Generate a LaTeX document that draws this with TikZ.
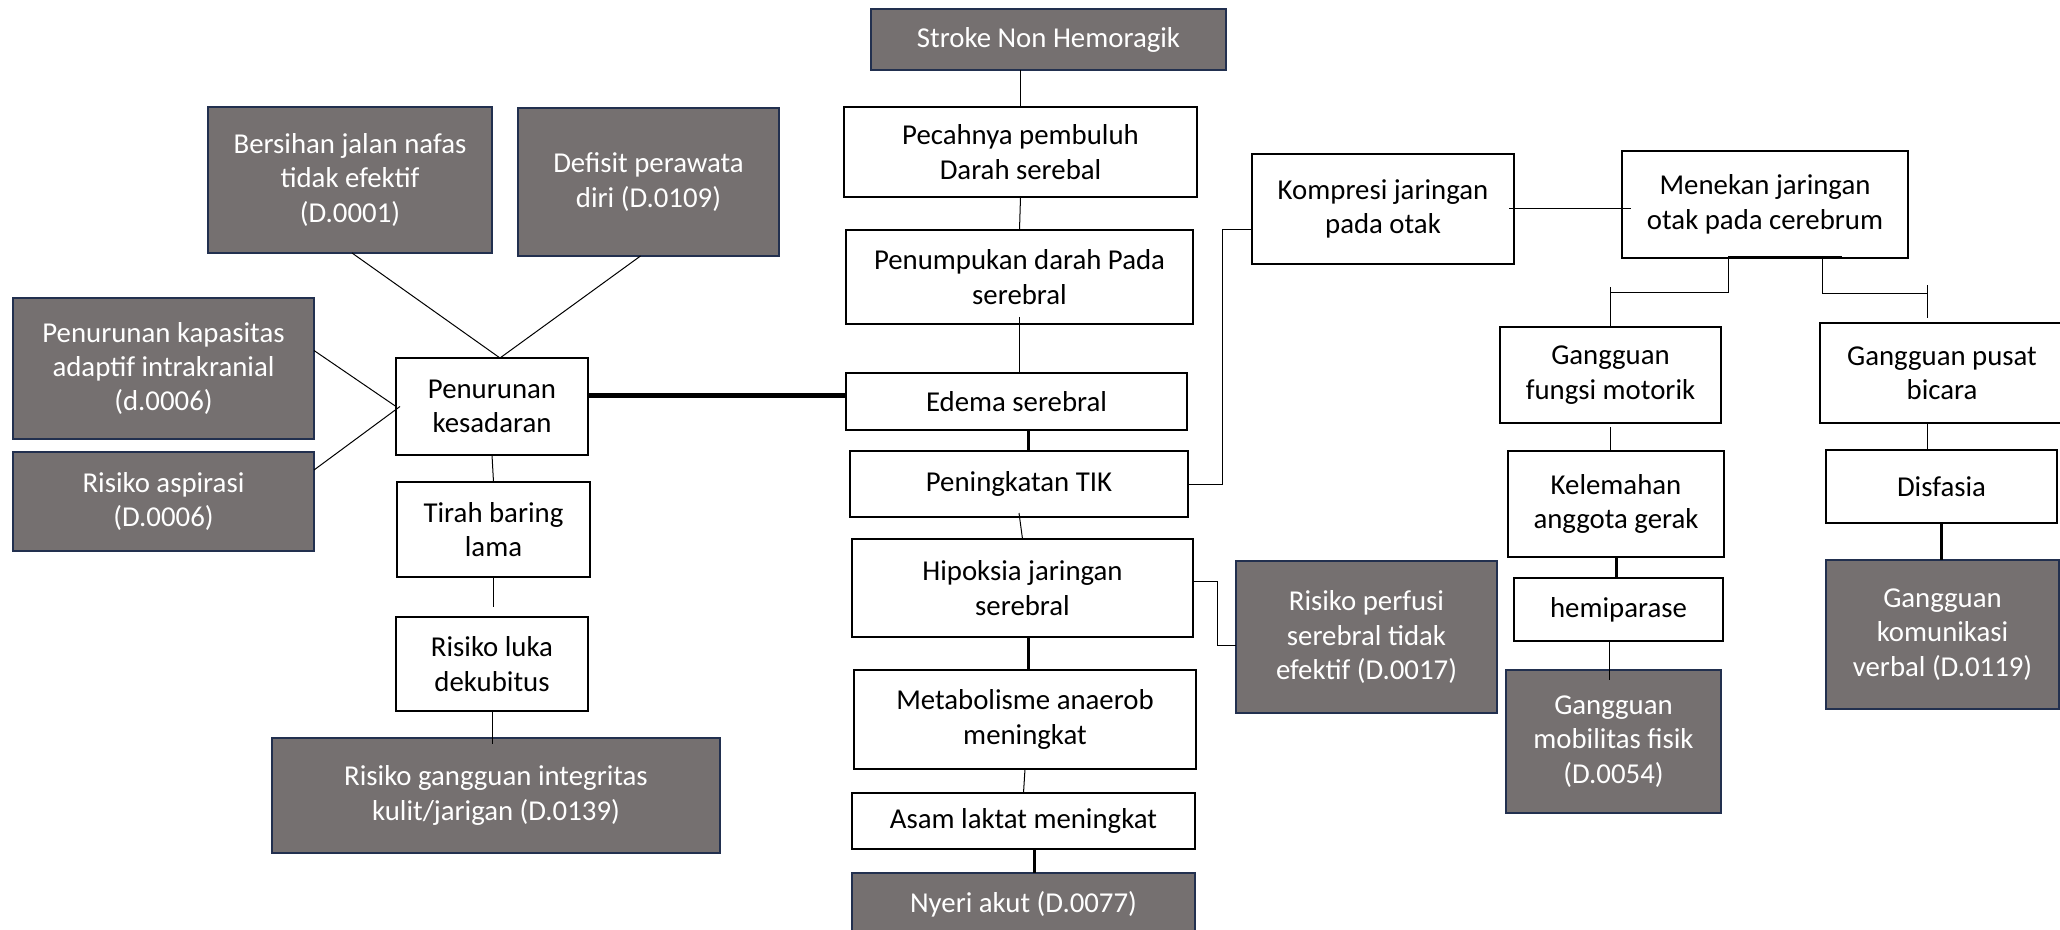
\documentclass[tikz,border=0pt]{standalone}
\usepackage{fontspec}
\setmainfont{Carlito}
\definecolor{dkfill}{RGB}{117,112,112}
\definecolor{dkborder}{RGB}{34,48,79}
\newcommand\bx[7]{%
  \pgfmathsetmacro\bxw{(#4-#2)*0.5}%
  \pgfmathsetmacro\bxh{(#5-#3)*0.5}%
  \node[#7, minimum width=\bxw pt, minimum height=\bxh pt] (#1) at ({(#2+#4)/2},{(#3+#5)/2}) {#6};}
\begin{document}
\begin{tikzpicture}[x=0.5pt,y=-0.5pt,
  basebox/.style={align=center, inner sep=1pt, outer sep=0pt, line width=1pt,
    font=\fontsize{14.4}{17.2}\selectfont},
  wbox/.style={basebox, draw=black, fill=white, text=black},
  dbox/.style={basebox, draw=dkborder, fill=dkfill, text=white},
  thin/.style={line width=0.5pt, black},
  bold/.style={line width=1.5pt, black},
  heavy/.style={line width=2.4pt, black}]
\fill[white] (0,0) rectangle (2060,930);
\useasboundingbox (0,0) rectangle (2060,930);

% centre column
\bx{stroke}{871}{9}{1226}{70}{Stroke Non Hemoragik}{dbox}
\bx{pec}{844}{107}{1197}{197}{Pecahnya pembuluh\\Darah serebal}{wbox}
\bx{pen}{846}{230}{1193}{324}{Penumpukan darah Pada\\serebral}{wbox}
\bx{ed}{846}{373}{1187}{430}{Edema serebral}{wbox}
\bx{tik}{850}{451}{1188}{517}{Peningkatan TIK}{wbox}
\bx{hip}{852}{539}{1193}{637}{Hipoksia jaringan\\serebral}{wbox}
\bx{met}{854}{670}{1196}{769}{Metabolisme anaerob\\meningkat}{wbox}
\bx{asam}{852}{793}{1195}{849}{Asam laktat meningkat}{wbox}
\bx{nyeri}{852}{873}{1195}{935}{Nyeri akut (D.0077)}{dbox}
\bx{perf}{1236}{561}{1497}{713}{Risiko perfusi\\serebral tidak\\efektif (D.0017)}{dbox}

% left part
\bx{bers}{208}{107}{492}{253}{Bersihan jalan nafas\\tidak efektif\\(D.0001)}{dbox}
\bx{def}{518}{108}{779}{256}{Defisit perawata\\diri (D.0109)}{dbox}
\bx{kap}{13}{298}{314}{439}{Penurunan kapasitas\\adaptif intrakranial\\(d.0006)}{dbox}
\bx{asp}{13}{452}{314}{551}{Risiko aspirasi\\(D.0006)}{dbox}
\bx{pk}{396}{358}{588}{455}{Penurunan\\kesadaran}{wbox}
\bx{tir}{397}{482}{590}{577}{Tirah baring\\lama}{wbox}
\bx{luka}{396}{617}{588}{711}{Risiko luka\\dekubitus}{wbox}
\bx{integ}{272}{738}{720}{853}{Risiko gangguan integritas\\kulit/jarigan (D.0139)}{dbox}

% right part
\bx{komp}{1252}{154}{1514}{264}{Kompresi jaringan\\pada otak}{wbox}
\bx{men}{1622}{151}{1908}{258}{Menekan jaringan\\otak pada cerebrum}{wbox}
\bx{fungsi}{1500}{327}{1721}{423}{Gangguan\\fungsi motorik}{wbox}
\bx{kel}{1508}{451}{1724}{557}{Kelemahan\\anggota gerak}{wbox}
\bx{hemi}{1514}{578}{1723}{641}{hemiparase}{wbox}
\bx{mob}{1506}{670}{1721}{813}{Gangguan\\mobilitas fisik\\(D.0054)}{dbox}
\bx{bic}{1820}{323}{2064}{423}{Gangguan pusat\\bicara}{wbox}
\bx{dis}{1826}{450}{2057}{523}{Disfasia}{wbox}
\bx{kom}{1826}{560}{2059}{709}{Gangguan\\komunikasi\\verbal (D.0119)}{dbox}

% connectors: centre column
\draw[thin] (stroke.south -| pec.north) -- (pec.north);
\draw[thin] (pec.south) -- (pen.north);
\draw[thin] ([yshift=3.5pt]pen.south) -- (pen.south |- ed.north);
\draw[bold] ([xshift=6pt]ed.south) -- ([xshift=6pt]ed.south |- tik.north);
\draw[thin] ([yshift=2pt]tik.south) -- (hip.north);
\draw[bold] ([xshift=3pt]hip.south) -- ([xshift=3pt]hip.south |- met.north);
\draw[thin] (met.south) -- (asam.north);
\draw[bold] ([xshift=5.5pt]asam.south) -- ([xshift=5.5pt]asam.south |- nyeri.north);
\draw[thin] (tik.east) -- ++(34,0) |- ([yshift=-10.5pt]komp.west);
\draw[thin] ([yshift=3.5pt]hip.east) -- ++(24,0) |- ([yshift=-4pt]perf.west);

% connectors: left
\draw[heavy] ([yshift=5.5pt]pk.east) -- ([yshift=5.5pt]pk.east -| ed.west);
\draw[thin] ([xshift=1pt]bers.south) -- ([xshift=4pt]pk.north);
\draw[thin] ([xshift=-4pt]def.south) -- ([xshift=4pt]pk.north);
\draw[thin] ([yshift=9pt]kap.east) -- (pk.west);
\draw[thin] ([yshift=-9pt]asp.north east) -- ([xshift=2pt]pk.west);
\draw[thin] (pk.south) -- (tir.north);
\draw[thin] (tir.south) -- ++(0,30);
\draw[thin] (luka.south) -- ([yshift=-3pt]luka.south |- integ.north);

% connectors: right
\draw[thin] ([xshift=-2.5pt]komp.east) -- ([xshift=4.5pt]komp.east -| men.west);
\draw[bold] ([xshift=-18.5pt]men.south) -- ([xshift=38.5pt]men.south);
\draw[thin] ([xshift=-18.5pt]men.south) -- ++(0,35) -| (fungsi.north);
\draw[thin] (fungsi.north) -- ++(0,-40);
\draw[thin] ([xshift=28.5pt]men.south) |- ([xshift=-7.5pt,yshift=14.5pt]bic.north);
\draw[thin] ([xshift=-7.5pt,yshift=2.5pt]bic.north) -- ++(0,-33);
\draw[thin] ([xshift=-7.5pt]bic.south) -- ([xshift=-7.5pt]bic.south |- dis.north);
\draw[bold] (dis.south) -- (dis.south |- kom.north);
\draw[thin] ([yshift=-2pt]fungsi.south) -- (fungsi.south |- kel.north);
\draw[bold] (kel.south) -- (kel.south |- hemi.north);
\draw[thin] ([xshift=-4.5pt]hemi.south) -- ++(0,39);
\end{tikzpicture}
\end{document}
